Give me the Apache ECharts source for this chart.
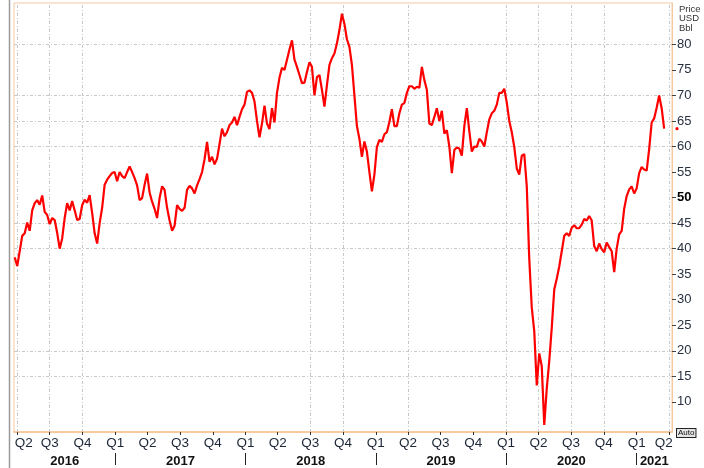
<!DOCTYPE html>
<html>
<head>
<meta charset="utf-8">
<script src="https://cdn.jsdelivr.net/npm/echarts@6.0.0/dist/echarts.min.js"></script>
<style>
html, body { margin: 0; padding: 0; background: #fff; }
#chart { width: 704px; height: 468px; }
</style>
</head>
<body>
<div id="chart"></div>
<script>
// weekly closes, first one on Friday 25 Mar 2016
var firstWeek = [2016, 2, 25];
var prices = [
    38.3, 36.6, 39.5, 42.5, 43.0, 45.1, 43.5, 47.5, 48.9, 49.5,
    48.6, 50.4, 47.2, 46.6, 44.8, 46.0, 45.6, 43.1, 40.0, 42.0,
    46.0, 48.9, 47.5, 49.3, 47.5, 45.6, 45.8, 48.5, 49.6, 49.0,
    50.5, 47.0, 43.0, 41.0, 45.0, 48.0, 52.5, 53.5, 54.2, 54.8,
    55.0, 53.2, 55.0, 54.2, 53.8, 55.0, 56.1, 55.0, 53.8, 52.4,
    49.5, 49.9, 52.5, 54.7, 51.0, 49.2, 47.8, 46.0, 49.9, 52.2,
    51.5, 48.0, 45.5, 43.5, 44.5, 48.5, 47.8, 47.4, 48.0, 51.5,
    52.3, 51.8, 50.8, 52.4, 53.6, 55.0, 57.5, 60.9, 57.0, 58.0,
    56.5, 57.6, 60.5, 63.5, 62.0, 62.8, 64.2, 64.7, 65.8, 64.2,
    65.8, 67.3, 68.2, 70.7, 71.0, 70.5, 68.8, 65.0, 61.8, 64.5,
    68.0, 64.5, 63.4, 67.5, 64.7, 70.5, 73.5, 75.4, 75.0, 77.0,
    79.0, 80.8, 77.0, 75.6, 74.0, 72.4, 72.5, 74.6, 76.5, 75.6,
    70.0, 73.6, 74.0, 71.1, 67.8, 72.0, 76.0, 77.3, 78.2, 80.2,
    82.8, 86.0, 84.0, 81.0, 79.5, 76.0, 70.0, 64.0, 61.5, 58.0,
    61.0, 59.0, 55.0, 51.2, 54.5, 59.9, 61.3, 60.9, 62.4, 62.8,
    64.8, 67.3, 64.0, 64.0, 66.5, 68.2, 68.5, 70.5, 71.8, 71.8,
    71.3, 71.7, 71.5, 75.6, 73.0, 71.1, 64.5, 64.2, 65.8, 67.5,
    65.0, 67.0, 62.5, 63.2, 60.0, 54.8, 59.3, 59.8, 59.6, 58.2,
    64.0, 67.5, 63.0, 59.0, 60.0, 59.9, 61.5, 61.0, 60.0, 62.8,
    65.3, 66.5, 67.0, 68.2, 70.5, 70.5, 71.3, 68.6, 65.0, 62.8,
    59.9, 55.7, 54.5, 58.2, 58.5, 52.2, 38.0, 28.5, 23.8, 13.2,
    19.5, 17.0, 5.5, 12.6, 18.0, 24.5, 32.0, 34.1, 36.5, 39.5,
    42.5, 43.0, 42.5, 44.1, 44.6, 44.0, 44.0, 44.7, 45.8, 45.5,
    46.4, 45.5, 40.5, 39.5, 41.0, 39.9, 39.3, 41.2, 40.3, 39.5,
    35.4, 40.0, 42.8, 43.5, 47.8, 50.3, 51.6, 52.2, 50.8, 51.8,
    54.8, 56.0, 55.5, 55.3, 59.5, 64.7, 65.5, 67.6, 70.0, 67.5,
    63.5
];

var quarterTicks = [
    '2016-04-01', '2016-07-01', '2016-10-01',
    '2017-01-01', '2017-04-01', '2017-07-01', '2017-10-01',
    '2018-01-01', '2018-04-01', '2018-07-01', '2018-10-01',
    '2019-01-01', '2019-04-01', '2019-07-01', '2019-10-01',
    '2020-01-01', '2020-04-01', '2020-07-01', '2020-10-01',
    '2021-01-01', '2021-04-01'
];
var quarterLabels = [
    'Q2', 'Q3', 'Q4',
    'Q1', 'Q2', 'Q3', 'Q4',
    'Q1', 'Q2', 'Q3', 'Q4',
    'Q1', 'Q2', 'Q3', 'Q4',
    'Q1', 'Q2', 'Q3', 'Q4',
    'Q1', 'Q2'
];
var yearLabels = ['2016', '2017', '2018', '2019', '2020', '2021'];
var yearStarts = ['2017-01-01', '2018-01-01', '2019-01-01', '2020-01-01', '2021-01-01'];
var priceTicks = [10, 15, 20, 25, 30, 35, 40, 45, 50, 55, 60, 65, 70, 75, 80];

// the source chart only draws some of its grid lines
var hGrid = [80, 70, 65, 60, 45, 40, 20, 15];
var vGrid = ['2016-04-01', '2016-07-01', '2016-10-01', '2018-07-01', '2018-10-01',
    '2019-04-01', '2020-01-01', '2020-04-01', '2020-07-01', '2020-10-01', '2021-04-01'];

var font = '"Liberation Sans", Arial, sans-serif';
var peach = '#f7c99e';

function day(s) {
    var p = s.split('-');
    return new Date(+p[0], p[1] - 1, +p[2]).getTime();
}
function nearest(list, v) {
    var best = 0;
    for (var i = 1; i < list.length; i++) {
        if (Math.abs(list[i] - v) < Math.abs(list[best] - v)) best = i;
    }
    return best;
}

var xMin = day('2016-03-23');
var xMax = day('2021-04-10');

var seriesData = prices.map(function (v, i) {
    return [new Date(firstWeek[0], firstWeek[1], firstWeek[2] + 7 * i).getTime(), v];
});

var qTs = quarterTicks.map(day);
var bounds = [xMin].concat(yearStarts.map(day), [xMax]);
var yearMids = yearLabels.map(function (y, i) { return (bounds[i] + bounds[i + 1]) / 2; });

var chart = echarts.init(document.getElementById('chart'));
option = {
    animation: false,
    grid: {
        left: 14,
        right: 32,
        top: 3,
        bottom: 31,
        show: true,
        borderColor: peach,
        borderWidth: 1
    },
    xAxis: [
        {
            type: 'value',
            min: xMin,
            max: xMax,
            axisLine: { lineStyle: { color: peach, width: 2 } },
            axisTick: { customValues: qTs, length: 3, lineStyle: { color: '#333' } },
            axisLabel: {
                customValues: qTs,
                formatter: function (v) {
                    var k = nearest(qTs, v);
                    // end labels are pushed inside the plot edges
                    if (k === 0) return '{first|' + quarterLabels[k] + '}';
                    if (k === qTs.length - 1) return '{last|' + quarterLabels[k] + '}';
                    return quarterLabels[k];
                },
                fontFamily: font,
                fontSize: 13.5,
                color: '#1c2636',
                margin: 4,
                rich: {
                    first: { fontFamily: font, fontSize: 13.5, color: '#1c2636', padding: [0, 0, 0, 13] },
                    last: { fontFamily: font, fontSize: 13.5, color: '#1c2636', padding: [0, 10, 0, 0] }
                }
            },
            splitLine: { show: false }
        },
        {
            type: 'value',
            min: xMin,
            max: xMax,
            position: 'bottom',
            offset: 21,
            axisLine: { show: false },
            axisTick: { customValues: yearStarts.map(day), length: 12, lineStyle: { color: '#222' } },
            axisLabel: {
                customValues: yearMids,
                formatter: function (v) { return yearLabels[nearest(yearMids, v)]; },
                fontFamily: font,
                fontSize: 13,
                fontWeight: 'bold',
                color: '#111',
                margin: 2
            },
            splitLine: { show: false }
        }
    ],
    yAxis: {
        type: 'value',
        position: 'right',
        min: 4.1,
        max: 88.1,
        axisLine: { show: true, lineStyle: { color: peach, width: 1 } },
        axisTick: { show: true, customValues: priceTicks, length: 4, lineStyle: { color: '#444' } },
        axisLabel: {
            customValues: priceTicks,
            margin: 5,
            fontFamily: font,
            fontSize: 13,
            color: '#283040',
            formatter: function (v) { return v === 50 ? '{b|50}' : String(v); },
            rich: { b: { fontFamily: font, fontSize: 13, fontWeight: 'bold', color: '#000' } }
        },
        splitLine: { show: false }
    },
    series: [
        {
            name: 'Price',
            type: 'line',
            data: seriesData,
            symbol: 'none',
            z: 3,
            lineStyle: { color: '#ff0000', width: 2.2 },
            itemStyle: { color: '#ff0000' },
            markLine: {
                silent: true,
                z: 1,
                symbol: 'none',
                animation: false,
                label: { show: false },
                lineStyle: { color: '#c8c8c8', width: 1, type: [3, 2, 1, 2] },
                emphasis: { disabled: true },
                data: hGrid.map(function (v) { return { yAxis: v }; })
                    .concat(vGrid.map(function (d) { return { xAxis: day(d) }; }))
            }
        }
    ],
    graphic: [
        {
            id: 'frame',
            type: 'line',
            shape: { x1: 9.5, y1: 0, x2: 9.5, y2: 468 },
            style: { stroke: '#9a9a9a', lineWidth: 1.5 }
        },
        {
            id: 'unit',
            type: 'text',
            left: 679,
            top: 4,
            style: { text: 'Price\nUSD\nBbl', fontFamily: font, fontSize: 9.5, lineHeight: 9.5, fill: '#333' }
        },
        {
            id: 'auto',
            type: 'text',
            left: 676,
            top: 428,
            style: {
                text: 'Auto', fontFamily: font, fontSize: 8, fill: '#111',
                backgroundColor: '#e4e4e4', borderColor: '#222', borderWidth: 1, padding: [0, 1]
            }
        }
    ]
};

chart.setOption(option);

// small red marker at the last price, just right of the plot
var lastY = chart.convertToPixel({ yAxisIndex: 0 }, prices[prices.length - 1]);
chart.setOption({
    graphic: [{
        id: 'last',
        type: 'circle',
        shape: { cx: 677, cy: lastY, r: 1.6 },
        style: { fill: '#ff0000' }
    }]
});
</script>
</body>
</html>
